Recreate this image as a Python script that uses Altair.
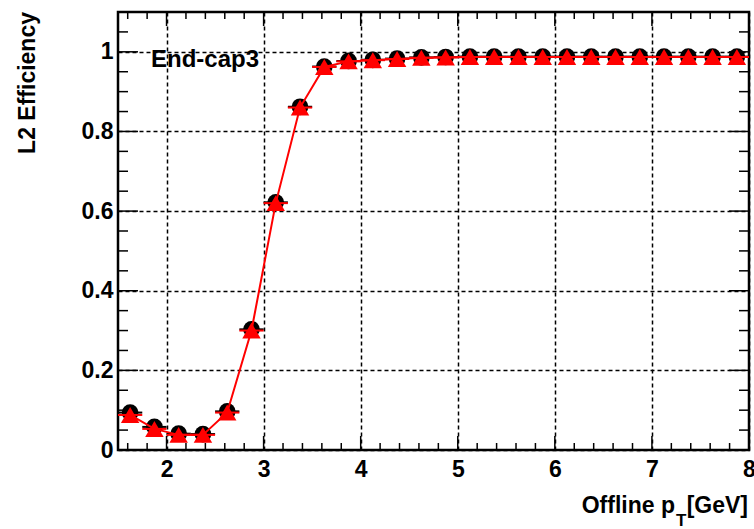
import altair as alt
import pandas as pd

# ---- data ----
pt_centers = [1.625, 1.875, 2.125, 2.375, 2.625, 2.875, 3.125, 3.375, 3.625, 3.875,
              4.125, 4.375, 4.625, 4.875, 5.125, 5.375, 5.625, 5.875, 6.125, 6.375,
              6.625, 6.875, 7.125, 7.375, 7.625, 7.875]
bin_half = [0.125] * len(pt_centers)
eff_black = [0.094, 0.058, 0.041, 0.040, 0.097, 0.303, 0.622, 0.862, 0.963, 0.977,
             0.980, 0.983, 0.986, 0.987, 0.988, 0.988, 0.988, 0.988, 0.988, 0.988,
             0.988, 0.988, 0.988, 0.988, 0.988, 0.988]
eff_red = [0.088, 0.053, 0.038, 0.038, 0.094, 0.300, 0.620, 0.860, 0.962, 0.976,
           0.979, 0.982, 0.985, 0.986, 0.987, 0.987, 0.987, 0.987, 0.987, 0.987,
           0.987, 0.987, 0.987, 0.987, 0.987, 0.987]

x_major = [2, 3, 4, 5, 6, 7, 8]
x_minor = [1.6, 1.8, 2.2, 2.4, 2.6, 2.8, 3.2, 3.4, 3.6, 3.8, 4.2, 4.4, 4.6, 4.8,
           5.2, 5.4, 5.6, 5.8, 6.2, 6.4, 6.6, 6.8, 7.2, 7.4, 7.6, 7.8]
y_major = [0, 0.2, 0.4, 0.6, 0.8, 1.0]
y_minor = [0.05, 0.1, 0.15, 0.25, 0.3, 0.35, 0.45, 0.5, 0.55, 0.65, 0.7, 0.75,
           0.85, 0.9, 0.95, 1.05]

W, H = 631, 438
FONT = "Liberation Sans"
FW = "bold"

df = pd.DataFrame({
    "pt": pt_centers,
    "lo": [c - h for c, h in zip(pt_centers, bin_half)],
    "hi": [c + h for c, h in zip(pt_centers, bin_half)],
    "eb": eff_black,
    "er": eff_red,
})

xs = alt.Scale(domain=[1.5, 8], nice=False, zero=False)
ys = alt.Scale(domain=[0, 1.1], nice=False, zero=False)

xaxis = alt.Axis(values=x_major, format="d", grid=True, gridDash=[4, 3], gridColor="black",
                 gridWidth=1.5, gridOpacity=1, ticks=False, domain=False, labelFont=FONT,
                 labelFontSize=23, labelFontWeight=FW, labelColor="black", labelPadding=8,
                 title=None, labelFlush=False)
yaxis = alt.Axis(values=y_major, format="~g", grid=True, gridDash=[4, 3], gridColor="black",
                 gridWidth=1.5, gridOpacity=1, ticks=False, domain=False, labelFont=FONT,
                 labelFontSize=23, labelFontWeight=FW, labelColor="black", labelPadding=5,
                 title=None, labelFlush=False)

base = alt.Chart(df)

axes_layer = base.mark_point(opacity=0).encode(
    x=alt.X("pt:Q", scale=xs, axis=xaxis),
    y=alt.Y("eb:Q", scale=ys, axis=yaxis),
)

err_black = base.mark_rule(color="black", strokeWidth=2).encode(
    x=alt.X("lo:Q", scale=xs), x2="hi:Q", y=alt.Y("eb:Q", scale=ys))
pts_black = base.mark_point(shape="circle", filled=True, color="black", size=280, opacity=1).encode(
    x=alt.X("pt:Q", scale=xs), y=alt.Y("eb:Q", scale=ys))
line_red = base.mark_line(color="#ff0000", strokeWidth=2).encode(
    x=alt.X("pt:Q", scale=xs), y=alt.Y("er:Q", scale=ys))
err_red = base.mark_rule(color="#ff0000", strokeWidth=2).encode(
    x=alt.X("lo:Q", scale=xs), x2="hi:Q", y=alt.Y("er:Q", scale=ys))
pts_red = base.mark_point(shape="triangle-up", filled=True, color="#ff0000", size=340, opacity=1).encode(
    x=alt.X("pt:Q", scale=xs), y=alt.Y("er:Q", scale=ys))

# ---- inward ticks on all four sides ----
def xticks(vals, length):
    d = pd.DataFrame({"v": vals})
    b = alt.Chart(d).mark_rule(color="black", strokeWidth=1.5)
    bottom = b.encode(x=alt.X("v:Q", scale=xs), y=alt.value(H), y2=alt.value(H - length))
    top = b.encode(x=alt.X("v:Q", scale=xs), y=alt.value(0), y2=alt.value(length))
    return bottom + top

def yticks(vals, length):
    d = pd.DataFrame({"v": vals})
    b = alt.Chart(d).mark_rule(color="black", strokeWidth=1.5)
    left = b.encode(y=alt.Y("v:Q", scale=ys), x=alt.value(0), x2=alt.value(length))
    right = b.encode(y=alt.Y("v:Q", scale=ys), x=alt.value(W), x2=alt.value(W - length))
    return left + right

ticks = xticks(x_minor, 7) + xticks(x_major, 14) + yticks(y_minor, 10) + yticks(y_major, 20)

# ---- texts ----
txt = pd.DataFrame({"a": [0]})
label = alt.Chart(txt).mark_text(text="End-cap3", font=FONT, fontSize=24, fontWeight=FW,
                                 align="left", baseline="alphabetic", color="black").encode(
    x=alt.value(33), y=alt.value(55))
ytitle = alt.Chart(txt).mark_text(text="L2 Efficiency", font=FONT, fontSize=23, fontWeight=FW,
                                  angle=270, align="right", baseline="alphabetic",
                                  color="black").encode(
    x=alt.value(-83), y=alt.value(0))
xt1 = alt.Chart(txt).mark_text(text="Offline p", font=FONT, fontSize=23, fontWeight=FW,
                               align="right", baseline="alphabetic", color="black").encode(
    x=alt.value(557), y=alt.value(63 + H))
xt2 = alt.Chart(txt).mark_text(text="T", font=FONT, fontSize=17, fontWeight=FW, align="left",
                               baseline="alphabetic", color="black").encode(
    x=alt.value(558), y=alt.value(76 + H))
xt3 = alt.Chart(txt).mark_text(text="[GeV]", font=FONT, fontSize=23, fontWeight=FW,
                               align="right", baseline="alphabetic", color="black").encode(
    x=alt.value(630), y=alt.value(63 + H))

chart = alt.layer(
    axes_layer, ticks, err_black, pts_black, line_red, err_red, pts_red,
    label, ytitle, xt1, xt2, xt3
).properties(
    width=W, height=H,
    autosize=alt.AutoSizeParams(type="none"),
    padding={"left": 118, "top": 12, "right": 5, "bottom": 79},
    background="white",
).configure_view(stroke="black", strokeWidth=2.5)

chart.save("out.html", embed_options={"renderer": "svg", "actions": False})
